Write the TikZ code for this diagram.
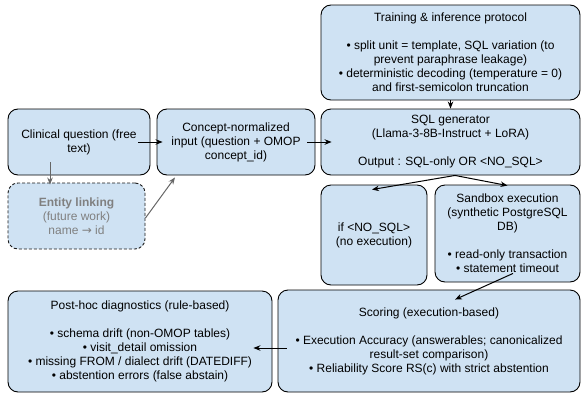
\documentclass[tikz,border=0pt]{standalone}
\usepackage{fontspec}
\setmainfont{Liberation Sans}
\newfontfamily\arrowfont{DejaVu Sans}
\usetikzlibrary{arrows.meta}
\definecolor{boxfill}{HTML}{CFE2F3}
\definecolor{greytext}{HTML}{808080}
\definecolor{greyline}{HTML}{666666}
\tikzset{
  box/.style={draw=black, line width=0.9pt, fill=boxfill, rounded corners=10pt,
    align=center, inner sep=0pt, font=\fontsize{12}{14}\selectfont},
  dashbox/.style={box, dash pattern=on 3pt off 2pt, draw=black!90, text=greytext},
  arr/.style={line width=1pt, -{Stealth[length=7pt,width=5.5pt]}},
  greyarr/.style={line width=1pt, draw=greyline, -{Stealth[length=7pt,width=5.5pt]}, color=greyline},
}
\begin{document}
\begin{tikzpicture}[x=1pt, y=-1pt]
\useasboundingbox (0,0) rectangle (584,399);

\node[box, minimum width=259, minimum height=95] (train) at (450.5,52.5)
  {Training \& inference protocol\\[14pt]
   • split unit = template, SQL variation (to\\
   prevent paraphrase leakage)\\
   • deterministic decoding (temperature = 0)\\
   and first-semicolon truncation};

\node[box, minimum width=259, minimum height=66] (sql) at (450.5,142)
  {SQL generator\\(Llama-3-8B-Instruct + LoRA)\\[14pt]Output : SQL-only OR <NO\_SQL>};

\node[box, minimum width=142, minimum height=66] (clin) at (79,142)
  {Clinical question (free\\text)};

\node[box, minimum width=158, minimum height=66] (conc) at (236,142)
  {Concept-normalized\\input (question + OMOP\\concept\_id)};

\node[dashbox, minimum width=137, minimum height=66] (ent) at (76.5,216)
  {\textbf{Entity linking}\\(future work)\\name {\arrowfont\fontsize{12}{14}\selectfont →} id};

\node[box, minimum width=106, minimum height=100] (nosql) at (374,235)
  {if <NO\_SQL>\\(no execution)};

\node[box, minimum width=145, minimum height=97] (sand) at (507.5,233.5)
  {Sandbox execution\\(synthetic PostgreSQL\\DB)\\[14pt]
   • read-only transaction\\• statement timeout};

\node[box, minimum width=302, minimum height=102] (score) at (429,341)
  {Scoring (execution-based)\\[14pt]
   • Execution Accuracy (answerables; canonicalized\\
   result-set comparison)\\
   • Reliability Score RS(c) with strict abstention};

\node[box, minimum width=264, minimum height=101] (post) at (140,341.5)
  {Post-hoc diagnostics (rule-based)\\[14pt]
   • schema drift (non-OMOP tables)\\
   • visit\_detail omission\\
   • missing FROM / dialect drift (DATEDIFF)\\
   • abstention errors (false abstain)};

% connectors
\draw[arr] ([xshift=-12]clin.east) -- ([xshift=6]conc.west);
\draw[arr] ([xshift=-8]conc.east) -- ([xshift=11]sql.west);
\draw[arr] (train.south) -- (sql.north);
\draw[arr] ([xshift=4.5]sql.south) -- ([xshift=-2,yshift=-5]nosql.north);
\draw[arr] ([xshift=4.5]sql.south) -- ([yshift=-1]sand.north);
\draw[arr] ([xshift=5.5,yshift=9]sand.south) -- ([xshift=26,yshift=-10]score.north);
\draw[arr] ([xshift=9,yshift=-7]score.west) -- ([xshift=-19,yshift=-6.5]post.east);
\draw[greyarr] ([xshift=-29,yshift=13]clin.south) -- ([xshift=-26.5,yshift=-2]ent.north);
\draw[greyarr] ([yshift=-2]ent.east) -- ([xshift=-61,yshift=-2]conc.south);
\end{tikzpicture}
\end{document}
